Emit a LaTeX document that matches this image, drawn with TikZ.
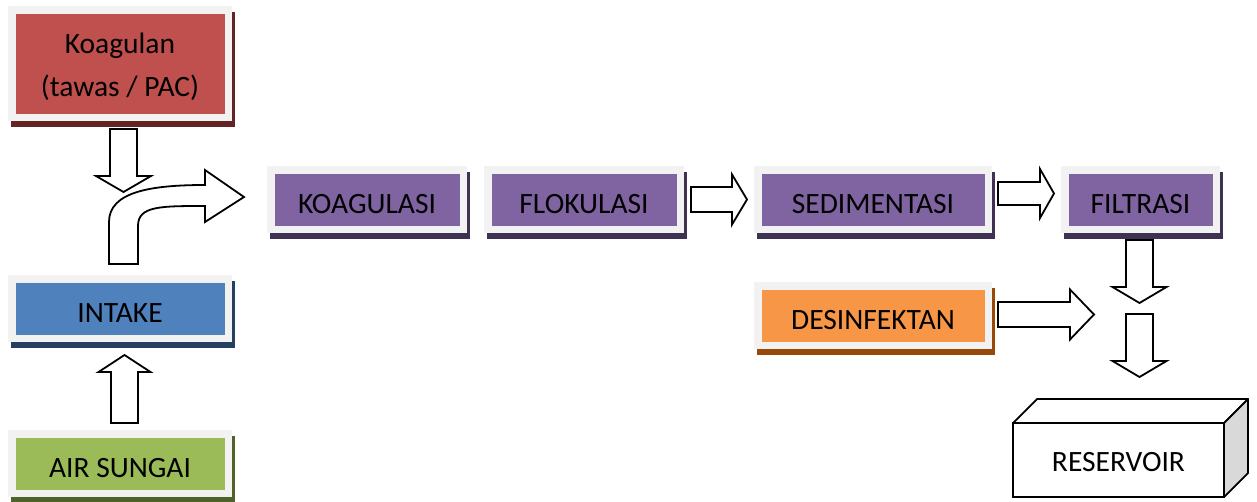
\documentclass[tikz,border=0pt]{standalone}
\usepackage{fontspec}
\setmainfont{Carlito}
\usetikzlibrary{shadows}

\definecolor{framegray}{HTML}{F2F2F2}
\definecolor{koagred}{HTML}{C0504D}
\definecolor{koagshadow}{HTML}{632423}
\definecolor{intakeblue}{HTML}{4F81BD}
\definecolor{intakeshadow}{HTML}{243F60}
\definecolor{sungaigreen}{HTML}{9BBB59}
\definecolor{sungaishadow}{HTML}{4F6228}
\definecolor{procpurple}{HTML}{8064A2}
\definecolor{procshadow}{HTML}{3F3151}
\definecolor{dosorange}{HTML}{F79646}
\definecolor{dosshadow}{HTML}{984807}
\definecolor{sidegray}{HTML}{D9D9D9}

\tikzset{
  % framed process box: light frame, coloured panel, dark drop shadow
  pbox/.style n args={4}{
    rectangle, fill=framegray, draw=none, inner sep=0pt, outer sep=0pt,
    minimum width=#1, minimum height=#2,
    font=\fontsize{29.5}{43}\selectfont, text=black,
    text height=27pt, text depth=0pt,
    general shadow={fill=#4, shadow xshift=3pt, shadow yshift=-6pt},
    path picture={\fill[#3]
      ([shift={(8pt,-8pt)}]path picture bounding box.north west) rectangle
      ([shift={(-7pt,7pt)}]path picture bounding box.south east);}
  },
  arrowline/.style={draw=black, fill=white, line width=1.8pt, line join=miter},
  % block arrow: length, head length, shaft half-width, head half-width
  pics/blockarrow/.style n args={4}{code={
    \draw[arrowline] (0,-#3) -- ({#1-#2},-#3) -- ({#1-#2},-#4) -- (#1,0)
      -- ({#1-#2},#4) -- ({#1-#2},#3) -- (0,#3) -- cycle;
  }}
}

\begin{document}
\begin{tikzpicture}[x=1pt, y=-1pt]
\useasboundingbox (0,0) rectangle (1257,501);

% process boxes
\node[pbox={224pt}{115pt}{koagred}{koagshadow}, align=center,
      text height=70pt, text depth=5pt] (koagulan) at (120,63.5) {Koagulan\\(tawas / PAC)};
\node[pbox={224pt}{67pt}{intakeblue}{intakeshadow}] (intake) at (120,308.5) {INTAKE};
\node[pbox={224pt}{67pt}{sungaigreen}{sungaishadow}] (sungai) at (120,463.5) {AIR SUNGAI};
\node[pbox={200pt}{67pt}{procpurple}{procshadow}] (koagulasi) at (367,199.5) {KOAGULASI};
\node[pbox={200pt}{67pt}{procpurple}{procshadow}] (flokulasi) at (584,199.5) {FLOKULASI};
\node[pbox={238pt}{67pt}{procpurple}{procshadow}] (sedimentasi) at (873,199.5) {SEDIMENTASI};
\node[pbox={159pt}{67pt}{procpurple}{procshadow}] (filtrasi) at (1140.5,199.5) {FILTRASI};
\node[pbox={238pt}{67pt}{dosorange}{dosshadow}] (desinfektan) at (873,315.5) {DESINFEKTAN};

% reservoir as a box in perspective
\node[draw, line width=1.8pt, fill=white, inner sep=0pt, outer sep=0pt,
      minimum width=211pt, minimum height=74pt,
      font=\fontsize{29.5}{35}\selectfont, text height=23pt, text depth=0pt] (reservoir) at (1118.5,460) {RESERVOIR};
\draw[line width=1.8pt, fill=white, line join=round]
  (reservoir.north west) -- ++(24,-24) -- ++(211,0) -- (reservoir.north east) -- cycle;
\draw[line width=1.8pt, fill=sidegray, line join=round]
  (reservoir.north east) -- ++(24,-24) -- ++(0,74) -- (reservoir.south east) -- cycle;

% block arrows
\pic[rotate=-90] at (123.5,129) {blockarrow={63}{16}{13.5}{27.5}};
\pic[rotate=90] at (124.5,423) {blockarrow={68}{17}{13.5}{26}};
\pic at (691,199.5) {blockarrow={56}{15}{12.5}{25}};
\pic at (998,193.5) {blockarrow={56}{14}{11.5}{24.5}};
\pic[rotate=-90] at (1139.5,240) {blockarrow={63}{16}{13.5}{27}};
\pic[rotate=-90] at (1139.5,314) {blockarrow={63}{16}{13.5}{27}};
\pic at (998,314.5) {blockarrow={96}{24}{12.5}{25}};

% bent arrow from intake turning towards coagulation
\draw[arrowline] (109,264) -- (109,222) .. controls (109,192) and (150,185) .. (205,185)
  -- (205,170) -- (244,197) -- (205,222) -- (205,206)
  .. controls (160,206) and (138,206) .. (138,226) -- (138,264) -- cycle;
\end{tikzpicture}
\end{document}
